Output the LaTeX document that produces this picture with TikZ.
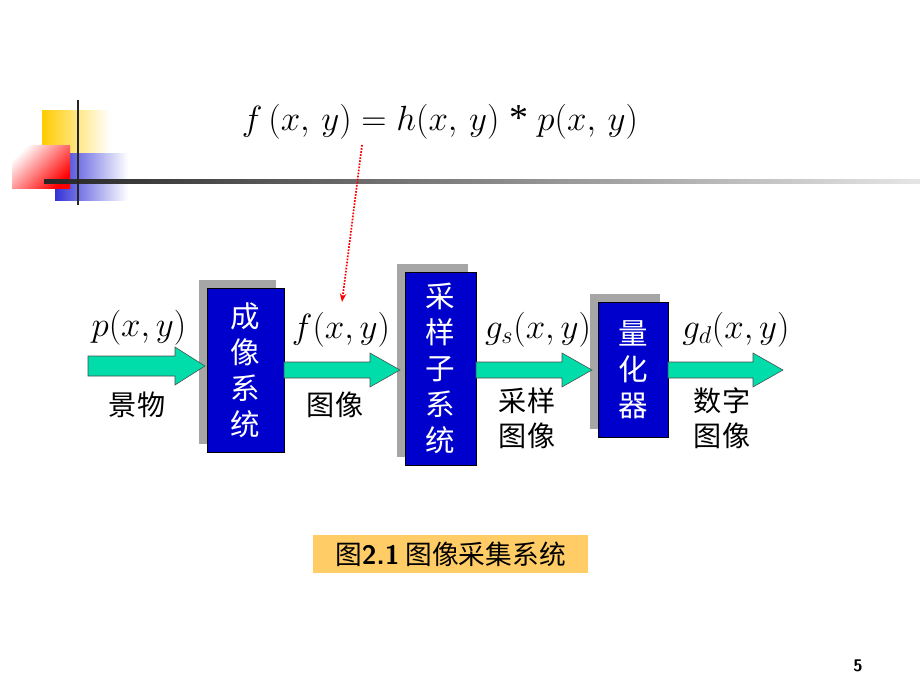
\documentclass[tikz,border=0pt]{standalone}
\usepackage{fontspec}
\usepackage{tikz}
\usetikzlibrary{arrows.meta,shapes.arrows}
\setmainfont{Liberation Serif}
\newfontfamily\cjk{Noto Sans CJK SC}
\definecolor{boxblue}{RGB}{0,0,204}
\definecolor{arrowgreen}{RGB}{0,221,170}
\definecolor{capfill}{RGB}{255,204,102}
\definecolor{gold}{RGB}{255,204,0}
\tikzset{
  blockbox/.style={draw=black, fill=boxblue, text=white, font=\cjk\fontsize{21}{25.5}\selectfont,
    align=center, inner sep=0pt},
  shadowbox/.style={fill=gray!70},
  flow/.style={draw=black!70, fill=arrowgreen},
  lbl/.style={font=\cjk\fontsize{20}{25}\selectfont, align=center},
  mathlbl/.style={font=\fontsize{27}{30}\selectfont}
}
\begin{document}
\begin{tikzpicture}[x=0.025cm, y=-0.025cm]
    \useasboundingbox (0,0) rectangle (920,690);
    % corner decoration
    \shade[left color=gold, right color=white] (42,110) rectangle (110,152);
    \shade[left color=boxblue!80, right color=white] (55,153) rectangle (128,200);
    \shade[top color=white, bottom color=red, shading angle=45] (12,145) rectangle (70,188);
    \shade[left color=black!85, right color=black!10] (44,179) rectangle (920,183);
    \draw[line width=1.3pt, black!85] (78,100) -- (78,205);

    % equation
    \node[mathlbl] (eq) at (440,122) {$f\,(x,\,y)=h(x,\,y)\mbox{ * }p(x,\,y)$};
    \coordinate (eqfoot) at (362,145);

    % shadows and boxes
    \fill[shadowbox] (199,280) rectangle (276,444);
    \fill[shadowbox] (397,264) rectangle (468,457);
    \fill[shadowbox] (590,294) rectangle (660,429);
    \node[blockbox, minimum width=77*0.025cm, minimum height=164*0.025cm] (imaging) at (245.5,370) {成\\像\\系\\统};
    \node[blockbox, minimum width=71*0.025cm, minimum height=193*0.025cm] (sampling) at (440.5,368.5) {采\\样\\子\\系\\统};
    \node[blockbox, minimum width=70*0.025cm, minimum height=135*0.025cm] (quant) at (633,369.5) {量\\化\\器};

    % flow arrows
    \draw[flow] (88,356) -- (175,356) -- (175,347) -- (205,366) -- (175,385) -- (175,376) -- (88,376) -- cycle;
    \draw[flow] (284,362) -- (370,362) -- (370,353) -- (400,370) -- (370,387) -- (370,378) -- (284,378) -- cycle;
    \draw[flow] (476,362) -- (562,362) -- (562,353) -- (592,370) -- (562,387) -- (562,378) -- (476,378) -- cycle;
    \draw[flow] (668,362) -- (753,362) -- (753,353) -- (783,370) -- (753,387) -- (753,378) -- (668,378) -- cycle;

    % labels
    \node[mathlbl] (pin) at (139,328) {$p(x,y)$};
    \node[lbl] (scene) at (137,405) {景物};
    \node[mathlbl] (fimg) at (341,330) {$f(x,y)$};
    \node[lbl] (image) at (335,405) {图像};
    \node[mathlbl] (gs) at (538,330) {$g_s(x,y)$};
    \node[lbl] (sampled) at (527,418) {采样\\图像};
    \node[mathlbl] (gd) at (736,330) {$g_d(x,y)$};
    \node[lbl] (digital) at (722,418) {数字\\图像};

    % dotted pointer
    \draw[red, densely dotted, line width=1.2pt, -{Stealth[length=6pt]}] (eqfoot) -- (342,302);

    % caption
    \node[fill=capfill, minimum width=275*0.025cm, minimum height=38*0.025cm,
      font=\cjk\fontsize{19}{22}\selectfont] (caption) at (450.5,554) {图\textbf{\sffamily 2.1} 图像采集系统};
    \node[font=\sffamily\bfseries\fontsize{12}{14}\selectfont] (page) at (858,666) {5};
\end{tikzpicture}
\end{document}
